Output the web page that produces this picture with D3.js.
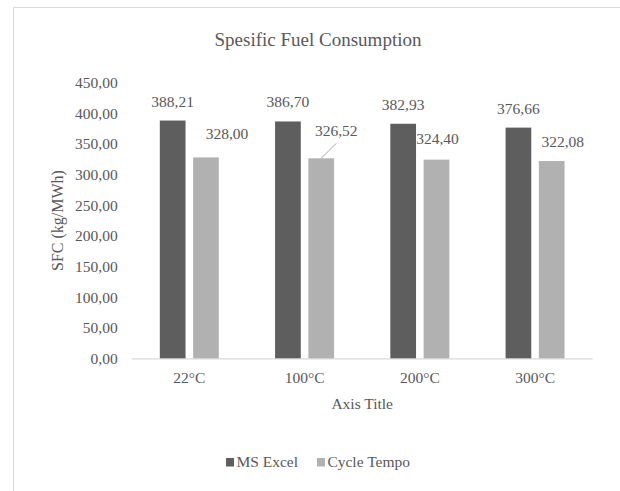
<!DOCTYPE html>
<html>
<head>
<meta charset="utf-8">
<script src="https://cdn.jsdelivr.net/npm/d3@7"></script>
<style>
  html, body { margin: 0; padding: 0; background: #fff; }
  svg { display: block; }
  text { font-family: "Liberation Serif", "Times New Roman", serif; fill: #595959; }
</style>
</head>
<body>
<svg id="chart" width="620" height="491"></svg>
<script>
// ---- data ----
const categories = ["22°C", "100°C", "200°C", "300°C"];
const seriesNames = ["MS Excel", "Cycle Tempo"];
const msExcel = [388.21, 386.70, 382.93, 376.66];
const cycleTempo = [328.00, 326.52, 324.40, 322.08];
const yTicks = [0, 50, 100, 150, 200, 250, 300, 350, 400, 450];
const chartTitle = "Spesific Fuel Consumption";
const yTitle = "SFC (kg/MWh)";
const xTitle = "Axis Title";

// ---- styling / layout ----
const colors = ["#5e5e5e", "#b1b1b1"];
// manual label nudges (Cycle Tempo labels were moved in the original)
const labelNudge = [[21, -4.5], [15, -8.6], [1, -1.5], [11, 0]];
const leader = [false, true, false, false];

const svg = d3.select("#chart");
const fmt = v => d3.format(".2f")(v).replace(".", ",");

// outer frame (right/bottom edges cropped)
svg.append("rect").attr("x", 13.5).attr("y", 7.5).attr("width", 700).attr("height", 600)
  .attr("fill", "none").attr("stroke", "#d9d9d9").attr("stroke-width", 1);

const plot = { left: 131.7, right: 592.7, top: 82.7, bottom: 358.3 };

const y = d3.scaleLinear().domain([0, 450]).range([plot.bottom, plot.top]);
const x0 = d3.scaleBand().domain(categories).range([plot.left, plot.right])
  .paddingInner(0.488).paddingOuter(0.244);
const x1 = d3.scaleBand().domain(seriesNames).range([0, x0.bandwidth()]).paddingInner(0.228);

// title
svg.append("text").attr("x", 318).attr("y", 45.5).attr("text-anchor", "middle")
  .style("font-size", "19px").text(chartTitle);

// y axis (labels only)
const yAxis = d3.axisLeft(y).tickValues(yTicks).tickSize(0).tickPadding(14).tickFormat(fmt);
const gy = svg.append("g").attr("transform", `translate(${plot.left},0)`).call(yAxis);
gy.select(".domain").remove();
gy.selectAll("text").style("font-size", "15.5px").style("font-family", "Liberation Serif").attr("fill", "#595959");

// x axis
const xAxis = d3.axisBottom(x0).tickSize(0).tickPadding(10);
const gx = svg.append("g").attr("transform", `translate(0,${plot.bottom})`).call(xAxis);
gx.select(".domain").attr("stroke", "#d9d9d9").attr("stroke-width", 1.2)
  .attr("d", `M${plot.left},0.5H${plot.right}`);
gx.selectAll("text").style("font-size", "15.5px").style("font-family", "Liberation Serif").attr("fill", "#595959")
  .attr("dy", "0.71em").attr("y", 14);

// axis titles
svg.append("text").attr("transform", `translate(63,${(plot.top + plot.bottom) / 2}) rotate(-90)`)
  .attr("text-anchor", "middle").style("font-size", "16px").text(yTitle);
svg.append("text").attr("x", (plot.left + plot.right) / 2).attr("y", 408.5)
  .attr("text-anchor", "middle").style("font-size", "15.5px").text(xTitle);

// bars
const seriesData = [msExcel, cycleTempo];
const groups = svg.append("g");
seriesData.forEach((vals, si) => {
  groups.selectAll(null).data(vals).enter().append("rect")
    .attr("x", (d, i) => x0(categories[i]) + x1(seriesNames[si]))
    .attr("y", d => y(d))
    .attr("width", x1.bandwidth())
    .attr("height", d => y(0) - y(d))
    .attr("fill", colors[si]);
});

// data labels
seriesData.forEach((vals, si) => {
  vals.forEach((v, i) => {
    const cx = x0(categories[i]) + x1(seriesNames[si]) + x1.bandwidth() / 2;
    const nd = si === 1 ? labelNudge[i] : [0, 0];
    const lx = cx + nd[0];
    const ly = y(v) - 14 + nd[1];
    svg.append("text").attr("x", lx).attr("y", ly).attr("text-anchor", "middle")
      .style("font-size", "15.5px").text(fmt(v));
    if (si === 1 && leader[i]) {
      svg.append("line").attr("x1", cx).attr("y1", y(v))
        .attr("x2", lx).attr("y2", ly + 7.6)
        .attr("stroke", "#a6a6a6").attr("stroke-width", 1);
    }
  });
});

// legend
const legend = svg.append("g");
let lx = 0;
seriesNames.forEach((name, i) => {
  const g = legend.append("g").attr("transform", `translate(${lx},0)`);
  g.append("rect").attr("x", 0).attr("y", -9.3).attr("width", 8).attr("height", 8.5).attr("fill", colors[i]);
  const t = g.append("text").attr("x", 10.4).attr("y", 0).style("font-size", "15.5px").text(name);
  lx += 10.4 + t.node().getComputedTextLength() + 19;
});
const lw = lx - 19;
legend.attr("transform", `translate(${318 - lw / 2},467.3)`);
</script>
</body>
</html>
